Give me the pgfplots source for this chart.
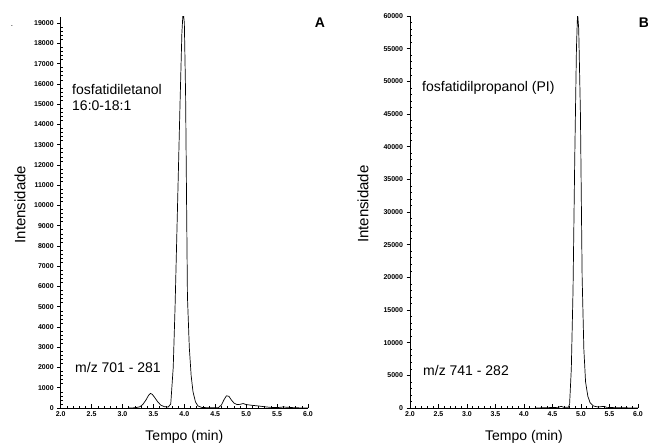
\documentclass[border=0pt]{standalone}
\usepackage{pgfplots}
\pgfplotsset{compat=1.18}
\usepackage{fontspec}
\setmainfont{Liberation Sans}

% chromatogram traces (time in min, intensity)
\pgfplotstableread{
t I
3.10 0
3.20 10
3.28 60
3.33 180
3.38 400
3.42 620
3.45 720
3.48 680
3.52 520
3.57 300
3.62 140
3.68 60
3.74 50
3.78 200
3.82 2000
3.85 5000
3.89 10000
3.93 15000
3.96 18500
3.98 19600
4.00 19000
4.02 15500
4.05 5500
4.08 3000
4.11 1600
4.14 800
4.18 300
4.22 100
4.28 30
4.40 10
4.55 20
4.60 150
4.64 400
4.68 600
4.72 580
4.76 400
4.80 250
4.85 170
4.90 180
4.95 220
5.00 170
5.10 130
5.20 100
5.30 60
5.40 30
5.50 20
5.60 50
5.70 30
5.80 10
6.00 0
}\traceA

\pgfplotstableread{
t I
4.20 0
4.40 50
4.60 100
4.65 250
4.70 100
4.78 100
4.80 600
4.83 6000
4.86 18000
4.89 38000
4.92 55000
4.94 60500
4.96 58000
4.99 45000
5.02 20000
5.05 9000
5.08 4000
5.12 1800
5.16 800
5.22 300
5.30 150
5.40 250
5.45 100
5.60 50
6.00 0
}\traceB

\pgfplotsset{
  chrom/.style={
    scale only axis,
    axis x line*=bottom, axis y line*=left,
    xmin=2, xmax=6, ymin=0,
    xtick={2,2.5,3,3.5,4,4.5,5,5.5,6},
    minor x tick num=4,
    minor y tick num=4,
    xtick align=inside,
    ytick align=outside,
    minor y tick style={xshift=2.4pt},
    major tick length=3.5pt, minor tick length=2.4pt,
    tick style={black, line width=0.5pt},
    axis line style={line width=0.6pt},
    scaled y ticks=false,
    xticklabel style={/pgf/number format/.cd, fixed, fixed zerofill, precision=1},
    yticklabel style={/pgf/number format/.cd, fixed, 1000 sep={}},
    /pgf/number format/assume math mode=true,
    tick label style={font=\bfseries\fontsize{7}{8}\selectfont},
    xlabel style={font=\fontsize{14}{16}\selectfont},
    ylabel style={font=\fontsize{15}{17}\selectfont},
    clip=true,
  }
}

\begin{document}
\begin{tikzpicture}[x=1pt,y=1pt]
\useasboundingbox (0,0) rectangle (648,447);

\begin{axis}[chrom, at={(60.7pt,39pt)}, anchor=south west,
  width=247.3pt, height=391pt, ymax=19300,
  ytick={0,1000,...,19000},
  xlabel={Tempo (min)}, ylabel={Intensidade},
  xlabel style={at={(axis description cs:0.5,-0.074)}, anchor=center},
  ylabel style={at={(axis description cs:-0.165,0.52)}, anchor=center},
]
\addplot[black, line width=0.7pt] table[x=t,y=I] {\traceA};
\end{axis}

\begin{axis}[chrom, at={(410pt,39pt)}, anchor=south west,
  width=228pt, height=392pt, ymax=60000,
  ytick={0,5000,...,60000},
  xlabel={Tempo (min)}, ylabel={Intensidade},
  xlabel style={at={(axis description cs:0.5,-0.074)}, anchor=center},
  ylabel style={at={(axis description cs:-0.206,0.52)}, anchor=center},
]
\addplot[black, line width=0.7pt] table[x=t,y=I] {\traceB};
\end{axis}

\begin{scope}[every node/.style={font=\fontsize{14}{16}\selectfont, inner sep=0pt}]
\node[anchor=west] at (72,357) {fosfatidiletanol};
\node[anchor=west] at (72,341) {16:0-18:1};
\node[anchor=west] at (75,80) {m/z 701 - 281};
\node[anchor=west] at (422,359) {fosfatidilpropanol (PI)};
\node[anchor=west] at (423,77) {m/z 741 - 282};
\end{scope}
\node[font=\bfseries\fontsize{14}{16}\selectfont] at (320,424) {A};
\node[font=\bfseries\fontsize{14}{16}\selectfont] at (644,424) {B};
\node[font=\fontsize{8}{9}\selectfont] at (12,421) {.};
\end{tikzpicture}
\end{document}
